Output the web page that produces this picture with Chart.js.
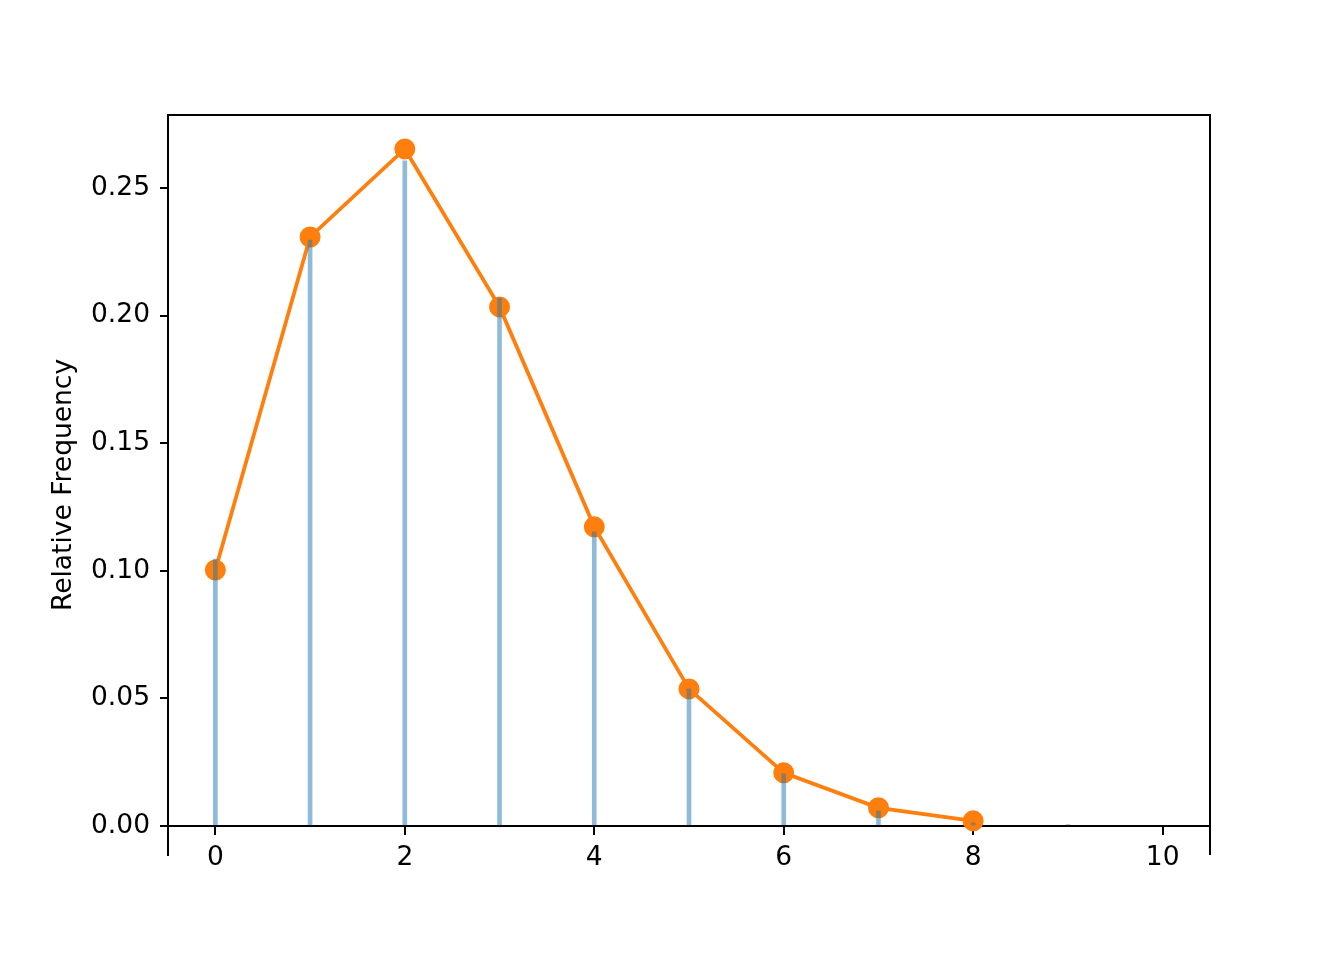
<!DOCTYPE html>
<html>
<head>
<meta charset="utf-8">
<script src="https://cdn.jsdelivr.net/npm/chart.js@4"></script>
<style>
  html, body { margin: 0; padding: 0; background: #fff; }
  #wrap { width: 1344px; height: 960px; }
</style>
</head>
<body>
<div id="wrap"><canvas id="myChart" width="1344" height="960"></canvas></div>
<script>
// observed relative frequencies (blue vlines)
var barX = [0, 1, 2, 3, 4, 5, 6, 7, 8, 9];
var barFreq = [0.1046, 0.2296, 0.2606, 0.2069, 0.1152, 0.0537, 0.0204, 0.0059, 0.0012, 0.0005];
// expected probabilities (orange line)
var lineX = [0, 1, 2, 3, 4, 5, 6, 7, 8];
var lineProb = [0.1003, 0.2308, 0.2653, 0.2034, 0.1172, 0.0537, 0.0208, 0.0071, 0.0020];
var xTicks = [0, 2, 4, 6, 8, 10];
var yTicks = [0, 0.05, 0.10, 0.15, 0.20, 0.25];

Chart.defaults.font.family = 'DejaVu Sans';
Chart.defaults.font.size = 26.5;
Chart.defaults.color = '#000';

var framePlugin = {
    id: 'frame',
    afterDraw: function (chart) {
        var a = chart.chartArea;
        var c = chart.ctx;
        c.save();
        c.strokeStyle = '#000';
        c.lineWidth = 2;
        c.beginPath();
        c.moveTo(a.left, a.top);
        c.lineTo(a.right, a.top);
        c.lineTo(a.right, a.bottom);
        c.stroke();
        c.restore();
    }
};

var ctx = document.getElementById('myChart');
var myChart = new Chart(ctx, {
    type: 'bar',
    data: {
        datasets: [{
            type: 'bar',
            label: 'observed',
            data: barX.map((x, i) => ({ x: x, y: barFreq[i] })),
            backgroundColor: 'rgba(31, 119, 180, 0.5)',
            borderWidth: 0,
            barThickness: 4,
            order: 0
        }, {
            type: 'line',
            label: 'expected',
            data: lineX.map((x, i) => ({ x: x, y: lineProb[i] })),
            borderColor: '#ff7f0e',
            backgroundColor: '#ff7f0e',
            borderWidth: 3.8,
            pointRadius: 9.5,
            pointBorderWidth: 2,
            pointBorderColor: '#ff7f0e',
            pointBackgroundColor: '#ff7f0e',
            tension: 0,
            order: 1
        }]
    },
    options: {
        responsive: false,
        animation: false,
        layout: { padding: { top: 115, right: 134, bottom: 105, left: 0 } },
        plugins: {
            legend: { display: false },
            tooltip: { enabled: false }
        },
        scales: {
            x: {
                type: 'linear',
                position: { y: 0 },
                min: -0.5,
                max: 10.5,
                offset: false,
                afterBuildTicks: function (scale) {
                    scale.ticks = xTicks.map(v => ({ value: v }));
                },
                ticks: { padding: 8, maxRotation: 0 },
                grid: { offset: false, drawOnChartArea: false, drawTicks: true, tickLength: 8, color: '#000', lineWidth: 2 },
                border: { display: true, color: '#000', width: 2 }
            },
            y: {
                type: 'linear',
                min: -0.0114,
                max: 0.2786,
                afterBuildTicks: function (scale) {
                    scale.ticks = yTicks.map(v => ({ value: v }));
                },
                afterFit: function (scale) {
                    scale.width = 168;
                },
                ticks: {
                    padding: 10,
                    callback: function (v) { return v.toFixed(2); }
                },
                grid: { drawOnChartArea: false, drawTicks: true, tickLength: 8, color: '#000', lineWidth: 2 },
                border: { display: true, color: '#000', width: 2 },
                title: { display: true, text: 'Relative Frequency', padding: { top: 48, bottom: 0 } }
            }
        }
    },
    plugins: [framePlugin]
});
</script>
</body>
</html>
